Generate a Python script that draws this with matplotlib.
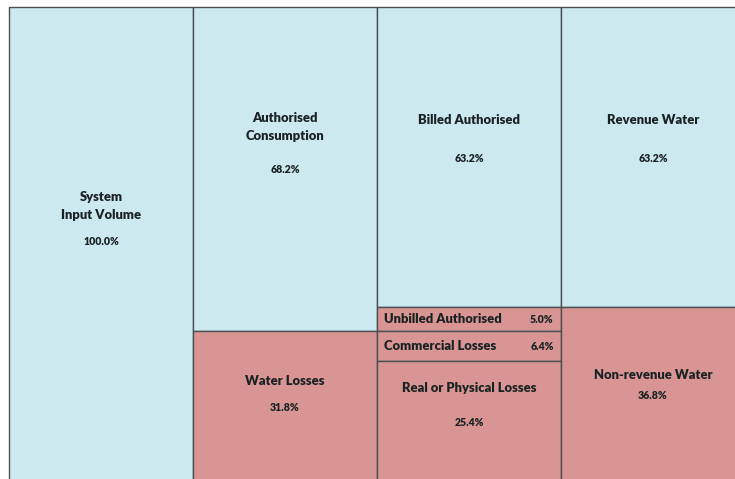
import matplotlib
matplotlib.use("Agg")
import matplotlib.pyplot as plt

plt.rcParams['font.family'] = ['Lato', 'DejaVu Sans']

# Data: water balance columns (percent of system input volume), top to bottom
columns = ["System Input Volume", "Consumption / Losses", "Components", "Revenue"]
col0_names = ["System\nInput Volume"]
col0_values = [100.0]
col1_names = ["Authorised\nConsumption", "Water Losses"]
col1_values = [68.2, 31.8]
col2_names = ["Billed Authorised", "Unbilled Authorised", "Commercial Losses", "Real or Physical Losses"]
col2_values = [63.2, 5.0, 6.4, 25.4]
col3_names = ["Revenue Water", "Non-revenue Water"]
col3_values = [63.2, 36.8]

# Styles
BLUE = "#cce9ef"
RED = "#d99594"
EDGE = "#4a4f52"
TEXT = "#1a2223"
col_colors = [
    [BLUE],
    [BLUE, RED],
    [BLUE, RED, RED, RED],
    [BLUE, RED],
]
# label layout: (name offset, value offset) as fraction of segment height; None -> inline
label_style = [
    [(0.419, 0.493)],
    [(0.37, 0.503), (0.33, 0.51)],
    [(0.376, 0.503), None, None, (0.22, 0.51)],
    [(0.376, 0.503), (0.387, 0.506)],
]
NAME_FS = 9.4
VAL_FS = 7.6

fig = plt.figure(figsize=(7.35, 4.79), dpi=100)
W, H = 735, 479
left, top = 9, 7
colw = 184
height = 475
ax = fig.add_axes([left / W, 1 - (top + height) / H, 4 * colw / W, height / H])
ax.set_xlim(0, 4)
ax.set_ylim(100, 0)
ax.axis("off")

all_names = [col0_names, col1_names, col2_names, col3_names]
all_values = [col0_values, col1_values, col2_values, col3_values]

for ci, (names, values) in enumerate(zip(all_names, all_values)):
    y0 = 0.0
    for si, (nm, v) in enumerate(zip(names, values)):
        ax.bar(ci + 0.5, v, width=1.0, bottom=y0, color=col_colors[ci][si],
               edgecolor=EDGE, linewidth=1.0, clip_on=False)
        st = label_style[ci][si]
        if st is None:
            yc = y0 + v / 2
            ax.text(ci + 0.04, yc, nm, ha="left", va="center", fontsize=NAME_FS,
                    fontweight="heavy", color=TEXT)
            ax.text(ci + 0.96, yc, f"{v:.1f}%", ha="right", va="center", fontsize=VAL_FS,
                    fontweight="heavy", color=TEXT)
        else:
            fn, fv = st
            ax.text(ci + 0.5, y0 + fn * v, nm, ha="center", va="center",
                    fontsize=NAME_FS, fontweight="heavy", color=TEXT, linespacing=1.6)
            ax.text(ci + 0.5, y0 + fv * v, f"{v:.1f}%", ha="center",
                    va="center", fontsize=VAL_FS, fontweight="heavy", color=TEXT)
        y0 += v

fig.savefig("out.png", dpi=100, facecolor="white")
